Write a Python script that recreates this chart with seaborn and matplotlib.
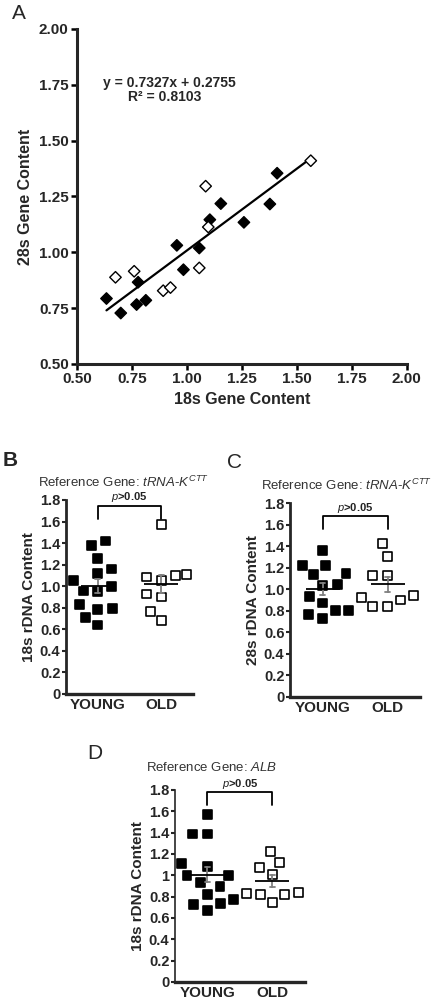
import numpy as np
import pandas as pd
import matplotlib
matplotlib.use("Agg")
import matplotlib.pyplot as plt
import seaborn as sns

###### Panel A: 18s vs 28s gene content
a_young_18s = [0.634, 0.699, 0.778, 0.771, 0.813, 0.954, 0.984, 1.056, 1.104, 1.154, 1.259, 1.377, 1.410]
a_young_28s = [0.793, 0.728, 0.866, 0.766, 0.785, 1.031, 0.922, 1.019, 1.146, 1.218, 1.134, 1.216, 1.354]
a_old_18s = [0.675, 0.760, 0.892, 0.925, 1.056, 1.085, 1.097, 1.563]
a_old_28s = [0.888, 0.915, 0.828, 0.842, 0.930, 1.296, 1.113, 1.410]
slope, intercept = 0.7327, 0.2755
a_ticks = [0.50, 0.75, 1.00, 1.25, 1.50, 1.75, 2.00]

###### Panels B-D: young vs old
groups = ["YOUNG", "OLD"]
b_young = [0.999, 1.42, 1.38, 1.26, 1.16, 1.12, 1.055, 0.956, 0.95, 0.83, 0.79, 0.78, 0.71, 0.64]
b_old = [1.571, 1.055, 1.10, 1.086, 1.11, 0.90, 0.928, 0.767, 0.68]
c_young = [1.359, 1.22, 1.22, 1.15, 1.14, 1.043, 1.033, 0.93, 0.872, 0.80, 0.80, 0.767, 0.732]
c_old = [1.428, 1.304, 1.124, 1.127, 0.90, 0.94, 0.922, 0.838, 0.838]
d_young = [1.572, 1.387, 1.387, 1.111, 1.083, 1.002, 0.996, 0.892, 0.936, 0.820, 0.776, 0.733, 0.726, 0.673]
d_old = [1.227, 1.124, 1.074, 1.008, 0.842, 0.823, 0.823, 0.833, 0.742]
rdna_ticks = [0, 0.2, 0.4, 0.6, 0.8, 1.0, 1.2, 1.4, 1.6, 1.8]
bd_ticklabels = ["0", "0.2", "0.4", "0.6", "0.8", "1.0", "1.2", "1.4", "1.6", "1.8"]
d_ticklabels = ["0", "0.2", "0.4", "0.6", "0.8", "1", "1.2", "1.4", "1.6", "1.8"]

sns.set_style("ticks")
plt.rcParams['font.family'] = ['Liberation Sans', 'DejaVu Sans']
plt.rcParams['mathtext.fontset'] = 'custom'
plt.rcParams['mathtext.it'] = 'Liberation Sans:italic'
plt.rcParams['mathtext.rm'] = 'Liberation Sans'
plt.rcParams['mathtext.bf'] = 'Liberation Sans:bold'

fig = plt.figure(figsize=(4.41, 10.01), dpi=100)

# ---------- A ----------
axA = fig.add_axes([0.1746, 0.6364, 0.748, 0.3347])
dfA = pd.DataFrame({
    "x": a_young_18s + a_old_18s,
    "y": a_young_28s + a_old_28s,
    "grp": ["YOUNG"] * len(a_young_18s) + ["OLD"] * len(a_old_18s),
})
sns.scatterplot(data=dfA, x="x", y="y", hue="grp", palette={"YOUNG": "black", "OLD": "white"},
                marker="D", s=34, edgecolor="black", linewidth=1.0, legend=False, ax=axA, zorder=3)
xs = np.array([dfA["x"].min(), dfA["x"].max()])
axA.plot(xs, slope * xs + intercept, color="black", lw=1.6, zorder=2)
axA.set_xlim(0.5, 2.0)
axA.set_ylim(0.5, 2.0)
axA.set_xticks(a_ticks)
axA.set_yticks(a_ticks)
axA.set_xticklabels([f"{t:.2f}" for t in a_ticks], fontweight="bold", fontsize=11)
axA.set_yticklabels([f"{t:.2f}" for t in a_ticks], fontweight="bold", fontsize=11)
axA.set_xlabel("18s Gene Content", fontweight="bold", fontsize=11.5, labelpad=4)
axA.set_ylabel("28s Gene Content", fontweight="bold", fontsize=11.5, labelpad=4)
for s in ["left", "bottom"]:
    axA.spines[s].set_linewidth(2.2)
sns.despine(ax=axA)
axA.tick_params(width=1.8, length=4, pad=2, color="black")
axA.text(0.918, 1.758, f"y = {slope}x + {intercept}", ha="center", va="center", fontweight="bold", fontsize=10)
axA.text(0.90, 1.696, "R\u00b2 = 0.8103", ha="center", va="center", fontweight="bold", fontsize=10)
fig.text(12 / 441, 1 - 19 / 1001, "A", fontsize=15)

swarms = []


def group_panel(ax, young, old, ylabel, ticklabels, title, bracket, left_lw=2.0):
    df = pd.DataFrame({"grp": ["YOUNG"] * len(young) + ["OLD"] * len(old), "val": young + old})
    n0 = len(ax.collections)
    # placed with a roomier marker so the swarm spreads like the original
    sns.swarmplot(data=df, x="grp", y="val", hue="grp", order=groups,
                  palette={"YOUNG": "black", "OLD": "white"}, marker="s", size=9,
                  edgecolor="black", linewidth=1.2, legend=False, ax=ax, clip_on=False,
                  zorder=3, warn_thresh=1)
    swarms.extend(ax.collections[n0:])
    # mean line and SEM
    sns.pointplot(data=df, x="grp", y="val", order=groups, errorbar="se", capsize=0.08,
                  color="gray", linestyle="none", marker="", err_kws={"linewidth": 1.3}, ax=ax)
    sns.pointplot(data=df, x="grp", y="val", order=groups, errorbar=None, color="black",
                  linestyle="none", marker="_", markersize=24, markeredgewidth=1.3, ax=ax)
    for ln in ax.lines:
        ln.set_zorder(5)
    ax.set_xlim(-0.5, 1.5)
    ax.set_ylim(0, 1.8)
    ax.set_yticks(rdna_ticks)
    ax.set_yticklabels(ticklabels, fontweight="bold", fontsize=10.5)
    ax.set_xticks([0, 1])
    ax.set_xticklabels(groups, fontweight="bold", fontsize=11)
    ax.set_xlabel("")
    ax.set_ylabel(ylabel, fontweight="bold", fontsize=11, labelpad=3)
    sns.despine(ax=ax)
    ax.spines["left"].set_linewidth(left_lw)
    ax.spines["bottom"].set_linewidth(2.4)
    ax.tick_params(axis="y", width=1.5, length=3, pad=1)
    ax.tick_params(axis="x", length=0, pad=3)
    top, leg, ptxt = bracket
    ax.plot([0, 0, 1, 1], [leg, top, top, leg], color="black", lw=1.3, clip_on=False)
    ax.text(0.5, ptxt, r"$\mathit{p}$>0.05", ha="center", va="center", fontsize=8, fontweight="bold", color="#222222")
    ax.text(-0.22, title[1], title[0], transform=ax.transAxes, ha="left", va="center",
            fontsize=9.5, color="#333333")


axB = fig.add_axes([0.1497, 0.3067, 0.288, 0.1938])
group_panel(axB, b_young, b_old, "18s rDNA Content", bd_ticklabels,
            (r"Reference Gene: $\mathit{tRNA}$-$\mathit{K^{CTT}}$", 1.093), (1.744, 1.626, 1.83))
fig.text(3 / 441, 1 - 466 / 1001, "B", fontsize=15, fontweight="bold")

axC = fig.add_axes([0.6576, 0.3037, 0.2948, 0.1938])
group_panel(axC, c_young, c_old, "28s rDNA Content", bd_ticklabels,
            (r"Reference Gene: $\mathit{tRNA}$-$\mathit{K^{CTT}}$", 1.093), (1.676, 1.558, 1.75))
fig.text(227 / 441, 1 - 468 / 1001, "C", fontsize=15)

axD = fig.add_axes([0.3968, 0.019, 0.2948, 0.1918])
group_panel(axD, d_young, d_old, "18s rDNA Content", d_ticklabels,
            (r"Reference Gene: $\mathit{ALB}$", 1.115), (1.785, 1.66, 1.86), left_lw=1.2)
fig.text(87 / 441, 1 - 759 / 1001, "D", fontsize=15)

# let seaborn lay out the swarms, then freeze them and shrink the squares
fig.canvas.draw()
for coll in swarms:
    if "draw" in coll.__dict__:
        del coll.draw
    coll.set_sizes([6.4 ** 2] * len(coll.get_offsets()))

fig.savefig("out.png", dpi=100)
